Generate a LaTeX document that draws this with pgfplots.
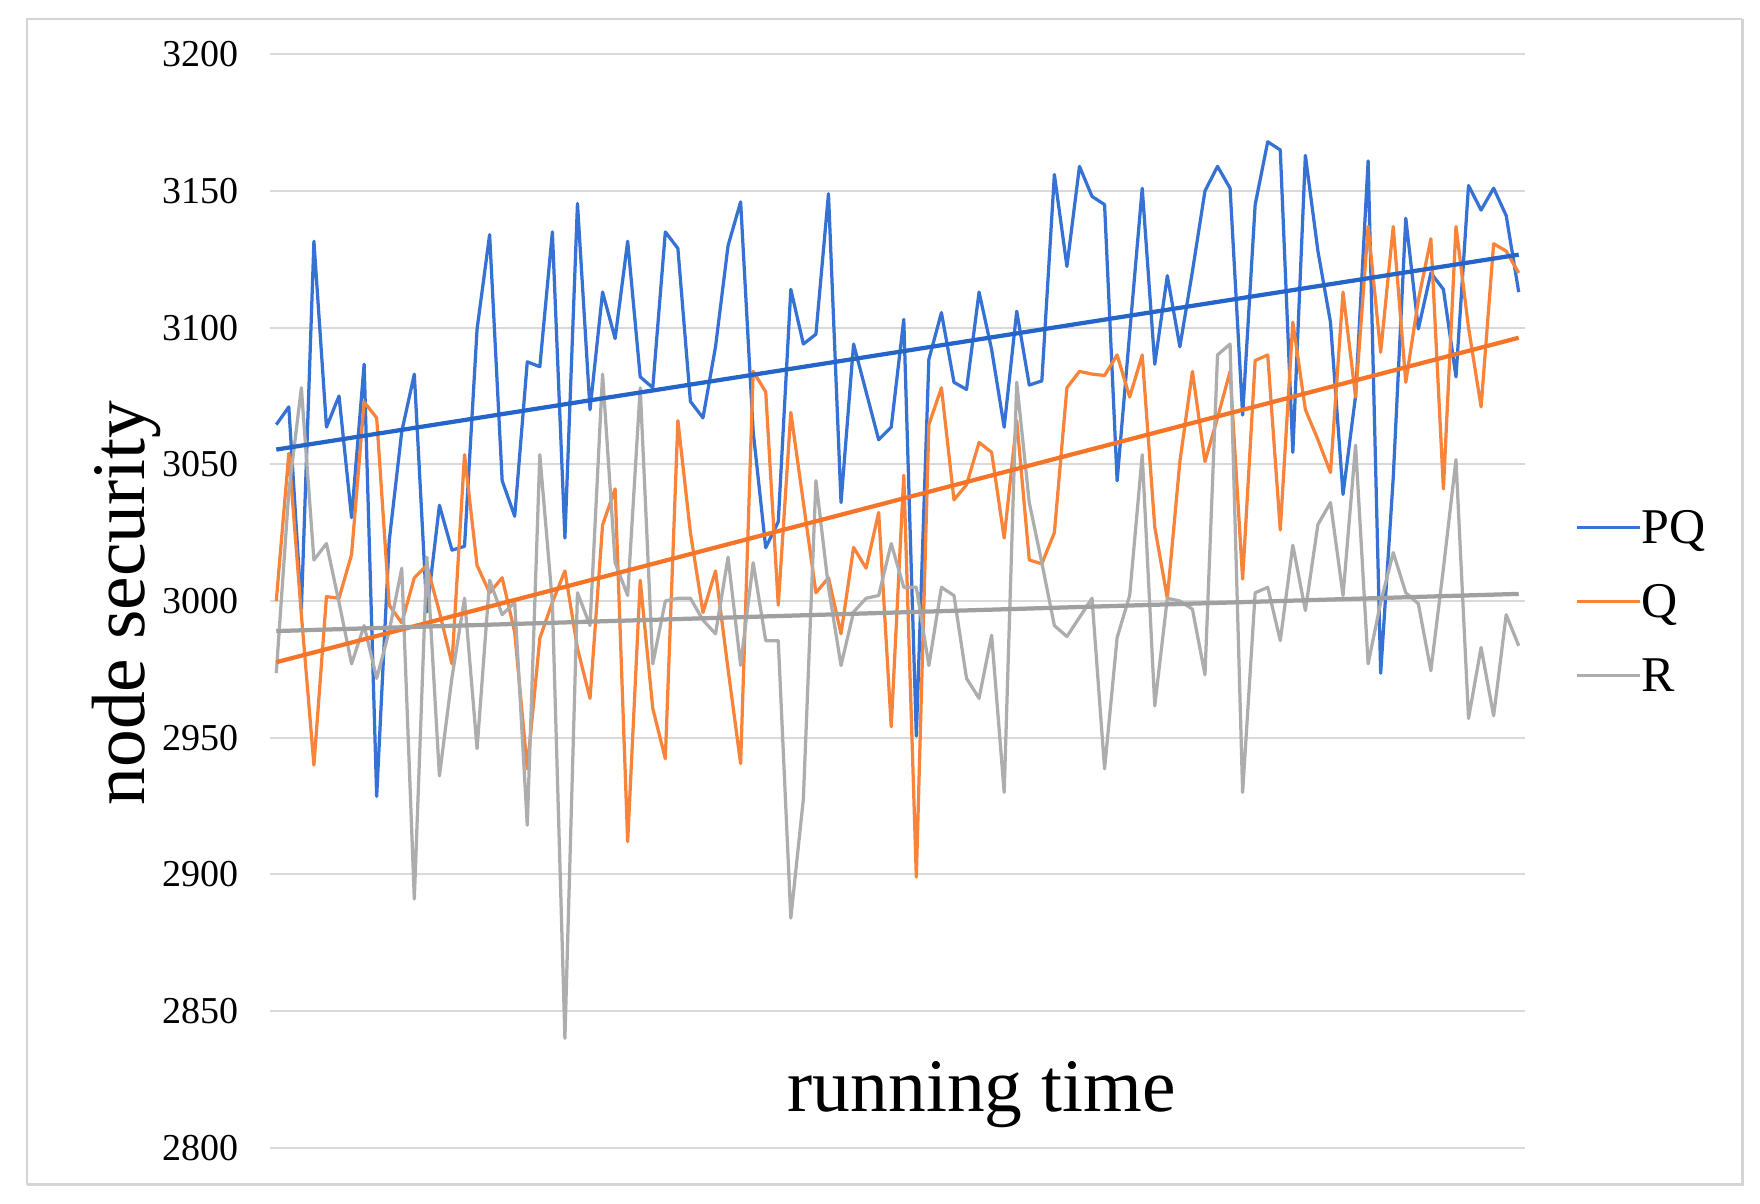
\documentclass[border=0pt]{standalone}
\usepackage{fontspec}
\setmainfont{Liberation Serif}
\usepackage{pgfplots}
\usepackage{pgfplotstable}
\pgfplotsset{compat=1.18}
\definecolor{cPQ}{HTML}{3672D4}
\definecolor{cQ}{HTML}{F7843A}
\definecolor{cR}{HTML}{ADADAD}
\definecolor{tPQ}{HTML}{2564C8}
\definecolor{tQ}{HTML}{F57428}
\definecolor{tR}{HTML}{A0A0A0}
\definecolor{gridc}{HTML}{D9D9D9}
\definecolor{framec}{HTML}{D4D4D4}
\pgfplotstableread{
pq q r
3064.5 3000 2973.6
3071 3054 3040
2997 2995 3078
3131.6 2940 3015
3063.6 3001.6 3021
3075 3001 2999.5
3030.5 3017 2977
3086.6 3072.8 2991
2928.5 3067 2971.7
3022 2998.5 2989
3062 2992 3012
3083 3008.5 2891
2996 3013 3016
3035 2996 2936
3018.6 2977 2972
3020 3053.5 3001
3099.5 3013 2946
3134 3003 3007.6
3044 3008.5 2995
3031 2988.5 2999.5
3087.5 2938.6 2918
3085.7 2986.4 3053.5
3135 2999.5 2999.5
3023 3011 2840
3145.4 2982.7 3003
3070 2964.4 2991
3113 3027.8 3083
3096 3041 3014
3131.6 2912 3002
3082 3007.6 3078
3078 2960.7 2977
3135 2942.3 3000
3129 3066 3001
3073 3025 3001
3067 2995.8 2993
3093 3011 2988
3130 2975 3016
3146 2940.5 2976.5
3062 3084 3014
3019.5 3076.5 2985.5
3029 2998.5 2985.5
3114 3069 2884
3094 3036 2927.6
3097.6 3003 3044
3149 3008.5 3005
3036 2988 2976.4
3094 3019.6 2996
3076.5 3012 3001
3059 3032.4 3002
3063.6 2954 3021
3103 3046 3005
2950.6 2899 3005
3088.4 3064.5 2976.4
3105.5 3078 3005
3080 3037 3002
3077.4 3042.5 2971.7
3113 3058 2964.4
3092 3054.4 2987.5
3063.6 3023 2930
3106 3066 3080
3079 3015 3036
3080.5 3013.6 3014
3156 3025 2991
3122.4 3078 2987
3159 3084 2994
3148 3083 3001
3145 3082.5 2938.6
3044 3090 2986.6
3098 3074.6 3002
3151 3090 3053.5
3086.6 3027 2961.6
3119 3001 3001
3093 3051 3000
3120.6 3084 2997
3150 3051 2973
3159 3067 3090
3151 3084 3094
3068 3008 2930
3145 3088 3003
3168 3090 3005
3165 3026 2985.5
3054.4 3102 3020.4
3163 3070 2996.5
3128 3059 3028
3102 3047 3036
3039 3113 3002
3075 3074.6 3057
3161 3137 2977
2973.6 3091 2999.5
3045 3137 3017.7
3140 3080 3003
3099.5 3110 2999
3120 3132.5 2974.5
3114 3041 3012
3082 3137 3051.7
3152 3100 2957
3143 3071 2983
3151 3130.7 2958
3141 3128 2995
3113 3120 2983.6
}\data
\begin{document}
\begin{tikzpicture}
\useasboundingbox (-108pt,-22.52pt) rectangle (596pt,459.08pt);
\draw[framec, line width=0.5pt] (-97.2pt,-14.9pt) -- (-97.2pt,451.5pt) -- (588.8pt,451.5pt);
\draw[framec, line width=1.2pt] (588.8pt,451.5pt) -- (588.8pt,-14.9pt) -- (-97.2pt,-14.9pt);
\begin{axis}[
  scale only axis, width=502pt, height=437.36pt,
  xmin=-0.5, xmax=99.5, ymin=2800, ymax=3200,
  clip=false,
  axis line style={draw=none},
  tick style={draw=none},
  xtick=\empty,
  ytick={2800,2850,...,3200},
  ymajorgrids,
  grid style={color=gridc, line width=0.8pt},
  yticklabel style={font=\fontsize{15.2}{18}\selectfont, anchor=east, inner sep=0pt, xshift=-12.4pt},
  /pgf/number format/.cd, 1000 sep={}, assume math mode=true,
  /pgfplots/.cd,
  legend cell align=left,
  legend image code/.code={\draw[#1] (0pt,0pt) -- (25.2pt,0pt);},
  legend style={at={(rel axis cs:1.0398,0.583)}, anchor=north west, draw=none, fill=none,
    inner sep=0pt, row sep=16.4pt, font=\fontsize{20}{24}\selectfont,
    nodes={inner sep=0pt, text height=13.2pt, text depth=0pt},
    /tikz/every even column/.append style={column sep=2pt}},
]
\addplot[cPQ, line width=1.3pt, line join=round] table[x expr=\coordindex, y=pq] {\data};
\addlegendentry{PQ}
\addplot[cQ, line width=1.3pt, line join=round] table[x expr=\coordindex, y=q] {\data};
\addlegendentry{Q}
\addplot[cR, line width=1.3pt, line join=round] table[x expr=\coordindex, y=r] {\data};
\addlegendentry{R}
\addplot[tPQ, line width=1.7pt, forget plot] coordinates {(0,3055.4) (99,3126.7)};
\addplot[tQ, line width=1.7pt, forget plot] coordinates {(0,2977.6) (99,3096.3)};
\addplot[tR, line width=1.7pt, forget plot] coordinates {(0,2989) (99,3002.6)};
\node[rotate=90, anchor=base, font=\fontsize{30.2}{36}\selectfont] at (rel axis cs:-0.1001,0.498) {node security};
\node[anchor=base, font=\fontsize{30.2}{36}\selectfont] at (axis cs:56.2,2813.4) {running time};
\end{axis}
\end{tikzpicture}
\end{document}
